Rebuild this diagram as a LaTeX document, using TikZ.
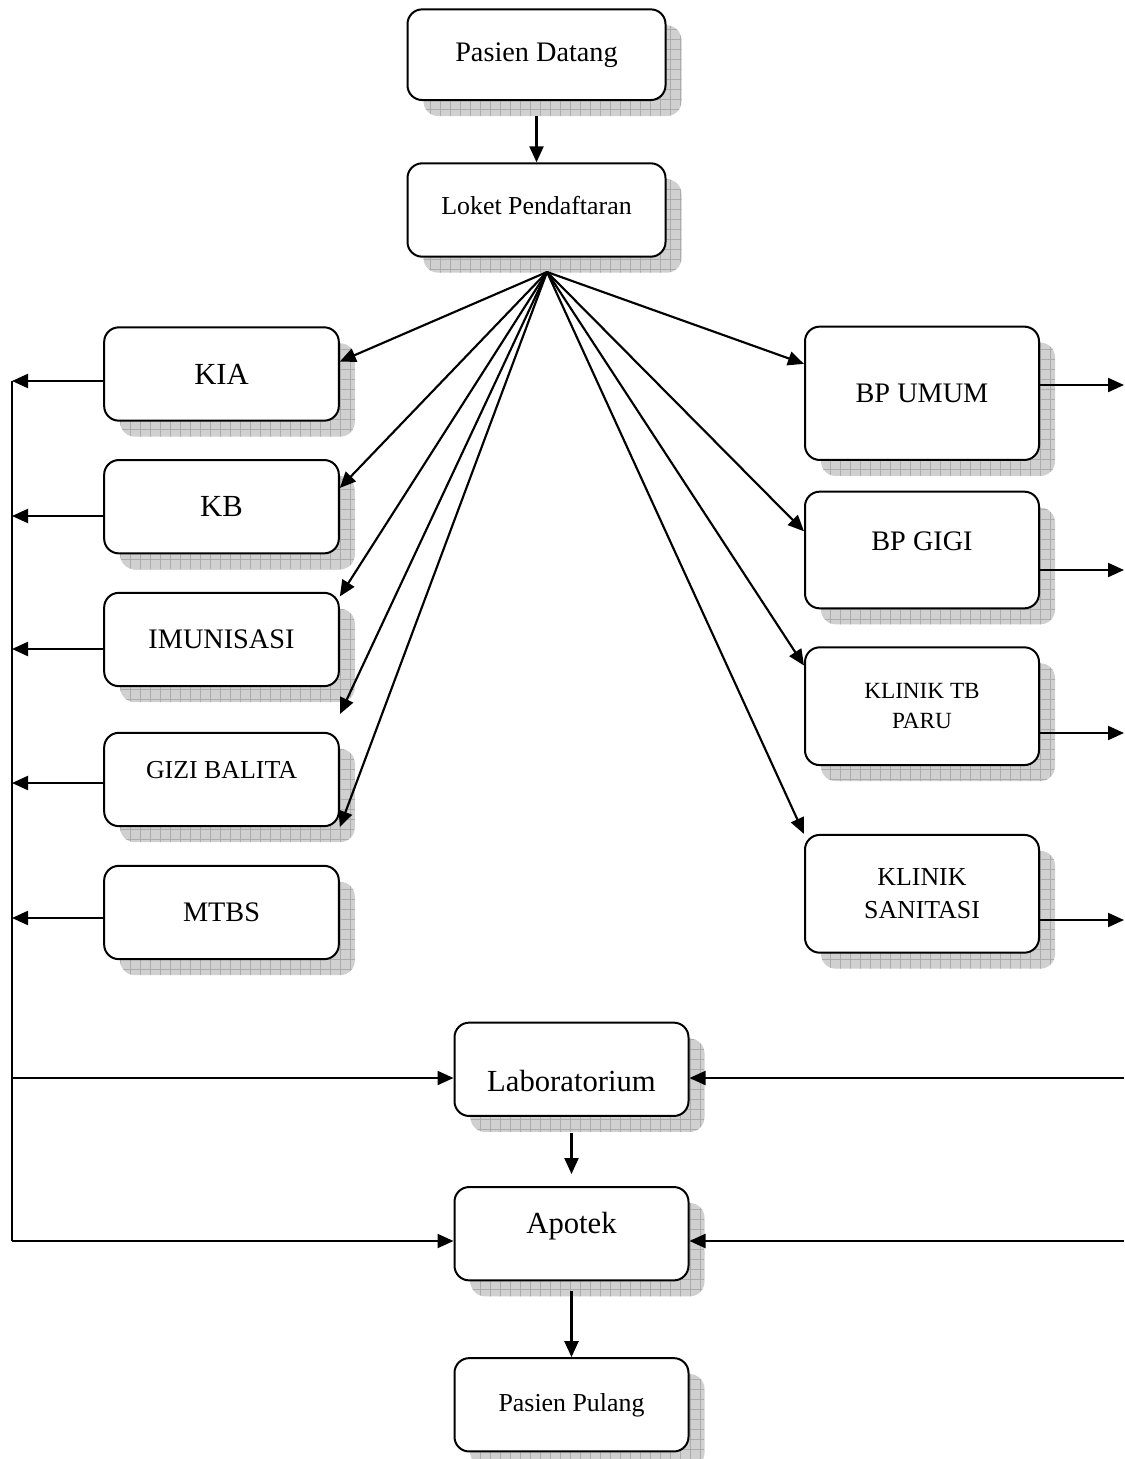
\documentclass[tikz,border=0pt]{standalone}
\usepackage{fontspec}
\setmainfont{Liberation Serif}
\usetikzlibrary{arrows.meta,shadows,patterns.meta}

\tikzset{every picture/.style={line width=0.75pt}}
\tikzset{
  box/.style={draw, line width=1.5pt, rounded corners=11pt, fill=white,
    minimum width=176pt, minimum height=70pt, align=center, inner sep=2pt,
    general shadow={shadow xshift=12pt, shadow yshift=-12pt, draw=none,
      fill={rgb, 255:red, 208; green, 208; blue, 208 },
      postaction={pattern={Hatch[distance=7.5pt, line width=0.45pt]},
        pattern color={rgb, 255:red, 172; green, 172; blue, 172 }}}},
  arr/.style={line width=1.6pt, -{Triangle[length=12pt, width=10.5pt]}},
  wire/.style={line width=1.6pt},
  txtS/.style={font=\fontsize{17.4}{22.5}\selectfont},
  txtM/.style={font=\fontsize{19.4}{24.75}\selectfont},
  txtL/.style={font=\fontsize{21.2}{25}\selectfont},
  txtXL/.style={font=\fontsize{23}{27}\selectfont}
}

\begin{document}
\begin{tikzpicture}[x=0.75pt,y=0.75pt,yscale=-1,xscale=1]
	\useasboundingbox (0,0) rectangle (1124,1459);

	%Shape: Rounded Rect (top)
	\node [box, txtL, minimum width=193.5pt, minimum height=68pt] (datang) at (536.5,54.7) {Pasien Datang};
	\node [box, txtM, minimum width=193.5pt, text depth=7.5pt] (loket) at (536.5,210) {Loket Pendaftaran};
	\coordinate (hub) at (547,272);

	%Shape: Rounded Rect (left column)
	\node [box, txtXL] (kia) at (221.5,374) {KIA};
	\node [box, txtXL] (kb) at (221.5,506.7) {KB};
	\node [box, txtL] (imun) at (221.5,639.5) {IMUNISASI};
	\node [box, txtM, text depth=14pt] (gizi) at (221.5,779.5) {GIZI BALITA};
	\node [box, txtL] (mtbs) at (221.5,912.5) {MTBS};

	%Shape: Rounded Rect (right column)
	\node [box, txtL, minimum width=175.5pt, minimum height=100pt] (bpumum) at (922,393.3) {BP UMUM};
	\node [box, txtL, minimum width=175.5pt, minimum height=87.5pt, text depth=13.5pt] (bpgigi) at (922,550) {BP GIGI};
	\node [box, txtS, minimum width=175.5pt, minimum height=88.3pt] (tbparu) at (922,706.2) {KLINIK TB\\PARU};
	\node [box, txtM, minimum width=175.5pt, minimum height=88.3pt] (sanitasi) at (922,893.8) {KLINIK\\SANITASI};

	%Shape: Rounded Rect (bottom)
	\node [box, txtXL, minimum width=175.5pt, text height=33.6pt] (lab) at (571.5,1069.3) {Laboratorium};
	\node [box, txtXL, minimum width=175.5pt, text depth=16.6pt] (apotek) at (571.5,1233.7) {Apotek};
	\node [box, txtM, minimum width=175.5pt] (pulang) at (571.5,1404.8) {Pasien Pulang};

	%Straight Lines (main flow)
	\draw [arr] ([yshift=11.5pt]datang.south) -- (loket.north);
	\draw [arr] ([yshift=12pt]lab.south) -- ([yshift=-9pt]apotek.north);
	\draw [arr] ([yshift=7.5pt]apotek.south) -- (pulang.north);

	%Straight Lines (from loket)
	\coordinate (loose) at (340,714);
	\draw [arr] (hub) -- (kia.6);
	\draw [arr] (hub) -- (kb.9);
	\draw [arr] (hub) -- (imun.20);
	\draw [arr] (hub) -- (loose);
	\draw [arr] (hub) -- (gizi.south east);
	\draw [arr] (hub) -- (bpumum.166);
	\draw [arr] (hub) -- (bpgigi.171);
	\draw [arr] (hub) -- (tbparu.161);
	\draw [arr] (hub) -- (sanitasi.north west);

	%Straight Lines (left bus)
	\coordinate (kiaL) at (12,381);
	\coordinate (kbL) at (12,516);
	\coordinate (imunL) at (12,649);
	\coordinate (giziL) at (12,783);
	\coordinate (mtbsL) at (12,918);
	\coordinate (labL) at (12,1078);
	\coordinate (apoL) at (12,1241);
	\draw [arr] (kia.west |- kiaL) -- (kiaL);
	\draw [arr] (kb.west |- kbL) -- (kbL);
	\draw [arr] (imun.west |- imunL) -- (imunL);
	\draw [arr] (gizi.west |- giziL) -- (giziL);
	\draw [arr] (mtbs.west |- mtbsL) -- (mtbsL);
	\draw [wire] (kiaL) -- (apoL);
	\draw [arr] (labL) -- (lab.west |- labL);
	\draw [arr] (apoL) -- (apotek.west |- apoL);

	%Straight Lines (right side)
	\coordinate (umumR) at (1124,385);
	\coordinate (gigiR) at (1124,570);
	\coordinate (tbR) at (1124,733);
	\coordinate (sanR) at (1124,920);
	\coordinate (labR) at (1124,1078);
	\coordinate (apoR) at (1124,1241);
	\draw [arr] (bpumum.east |- umumR) -- (umumR);
	\draw [arr] (bpgigi.east |- gigiR) -- (gigiR);
	\draw [arr] (tbparu.east |- tbR) -- (tbR);
	\draw [arr] (sanitasi.east |- sanR) -- (sanR);
	\draw [arr] (labR) -- (lab.east |- labR);
	\draw [arr] (apoR) -- (apotek.east |- apoR);

\end{tikzpicture}
\end{document}
